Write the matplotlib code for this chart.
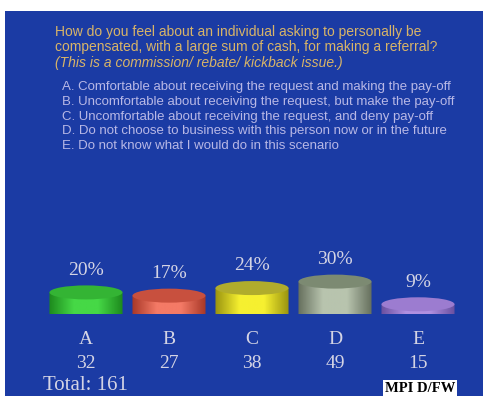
import numpy as np
import matplotlib.pyplot as plt
from matplotlib.patches import Ellipse, Rectangle, PathPatch
from matplotlib.path import Path
from matplotlib.colors import LinearSegmentedColormap
import matplotlib.transforms as mtransforms

# Survey results
categories = ['A', 'B', 'C', 'D', 'E']
percents = [20, 17, 24, 30, 9]
counts = [32, 27, 38, 49, 15]
total = 161

question = [
    'How do you feel about an individual asking to personally be',
    'compensated, with a large sum of cash, for making a referral?',
]
question_note = '(This is a commission/ rebate/ kickback issue.)'
options = [
    'A. Comfortable about receiving the request and making the pay-off',
    'B. Uncomfortable about receiving the request, but make the pay-off',
    'C. Uncomfortable about receiving the request, and deny pay-off',
    'D. Do not choose to business with this person now or in the future',
    'E. Do not know what I would do in this scenario',
]

# side colour (dark edge, highlight) and top colour for each cylinder
side_dark = ['#1d8a1d', '#a83828', '#9a9410', '#66705e', '#6a50a0']
side_light = ['#46d846', '#f47a66', '#f6f030', '#b8c4ae', '#b090e0']
top_colors = ['#34b434', '#c8503e', '#b0ac2c', '#7c8a72', '#9c7cd0']

W, H = 486, 396
fig = plt.figure(figsize=(W / 100, H / 100), dpi=100)
fig.patch.set_facecolor('white')

# blue slide background (behind the axes)
fig.patches.append(Rectangle((5 / W, 0), 478 / W, 385 / H, transform=fig.transFigure,
                             facecolor='#1b3ba4', edgecolor='none', zorder=-1))

# question text
for k, line in enumerate(question):
    fig.text(55 / W, 1 - (32 + 15.5 * k) / H, line, color='#d8b468', fontsize=10,
             family='Liberation Sans', va='center', ha='left')
fig.text(55 / W, 1 - 63 / H, question_note, color='#d8b468', fontsize=10,
         family='Liberation Sans', style='italic', va='center', ha='left')

for k, line in enumerate(options):
    fig.text(62 / W, 1 - (87 + 14.8 * k) / H, line, color='#b8b8e6', fontsize=9.5,
             family='Liberation Sans', va='center', ha='left')

# cylinder area: 83 px per category, 1.08 px per percent
px_per_pct = 1.08
ax = fig.add_axes([(86 - 0.6 * 83) / W, 82 / H, 5.2 * 83 / W, 45 * px_per_pct / H])
ax.axis('off')
ax.patch.set_alpha(0)

bw = 0.88               # cylinder width in category units
eh = 14 / px_per_pct    # ellipse height in percent units

for i, (p, c) in enumerate(zip(percents, categories)):
    x0, x1 = i - bw / 2, i + bw / 2
    cmap = LinearSegmentedColormap.from_list(
        'cyl%d' % i, [side_dark[i], side_light[i], side_light[i], side_dark[i]])

    # side outline: left edge, front arc of the base, right edge
    t = np.linspace(np.pi, 2 * np.pi, 40)
    arc = np.column_stack([i + bw / 2 * np.cos(t), eh / 2 * np.sin(t)])
    verts = np.vstack([[x0, p], arc, [x1, p], [x0, p]])
    side = PathPatch(Path(verts), facecolor='none', edgecolor='none')
    ax.add_patch(side)

    grad = np.linspace(0, 1, 100).reshape(1, -1)
    im = ax.imshow(grad, cmap=cmap, aspect='auto', extent=[x0, x1, -eh / 2, p],
                   interpolation='bilinear', zorder=2)
    im.set_clip_path(side)

    ax.add_patch(Ellipse((i, p), bw, eh, facecolor=top_colors[i],
                         edgecolor='none', zorder=3))

    # percentage label above the cylinder
    ax.annotate('%d%%' % p, xy=(i, p + eh / 2), xytext=(0, 11), textcoords='offset points',
                ha='center', va='center', color='#d4d4e4', fontsize=14,
                family='Liberation Serif', annotation_clip=False)

ax.set_xlim(-0.6, 4.6)
ax.set_ylim(0, 45)

# category letters and counts under the cylinders
trans = mtransforms.blended_transform_factory(ax.transData, fig.transFigure)
for i, (c, n) in enumerate(zip(categories, counts)):
    fig.text(i, 1 - 340 / H, c, transform=trans, ha='center', va='center',
             color='#d4d4e4', fontsize=14, family='Liberation Serif')
    fig.text(i, 1 - 363 / H, str(n), transform=trans, ha='center', va='center',
             color='#d4d4e4', fontsize=14, family='Liberation Serif')

fig.text(43 / W, 1 - 385 / H, 'Total: %d' % total, ha='left', va='center',
         color='#d4d4e4', fontsize=15, family='Liberation Serif')

# source tag in the corner
fig.patches.append(Rectangle((383 / W, 0), 74 / W, 16 / H, transform=fig.transFigure,
                             facecolor='white', edgecolor='none', zorder=5))
fig.text(420 / W, 8 / H, 'MPI D/FW', ha='center', va='center', color='black',
         fontsize=10.5, weight='bold', family='Liberation Serif', zorder=6)

fig.savefig('out.png', dpi=100)
